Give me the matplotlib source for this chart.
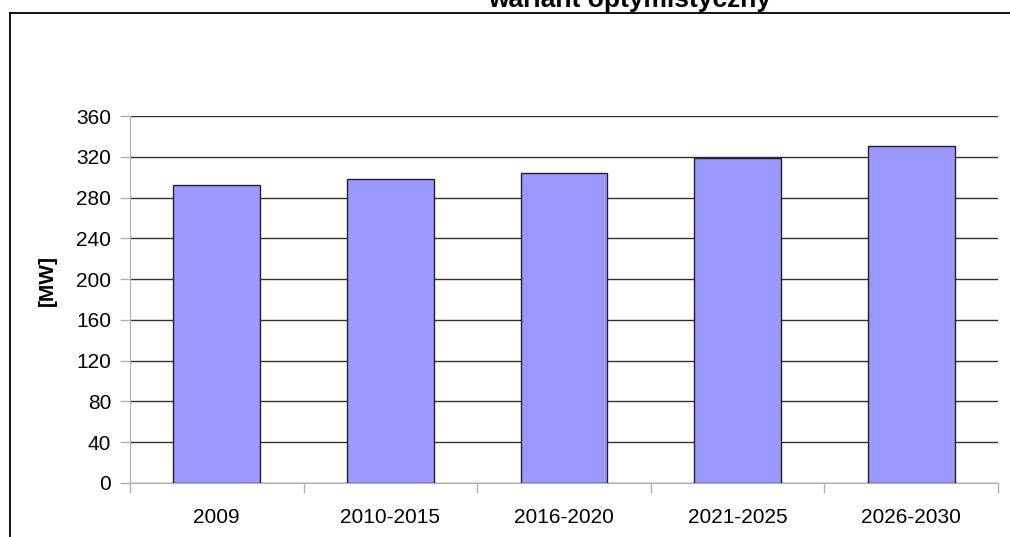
import matplotlib
matplotlib.use("Agg")
import matplotlib.pyplot as plt
from matplotlib.lines import Line2D
import numpy as np

categories = ["2009", "2010-2015", "2016-2020", "2021-2025", "2026-2030"]
values = [292, 298, 304, 318.5, 331]
yticks = [0, 40, 80, 120, 160, 200, 240, 280, 320, 360]
title = "wariant optymistyczny"
ylabel = "[MW]"

plt.rcParams['font.family'] = ['Liberation Sans', 'DejaVu Sans']

W, H = 1010, 537
fig = plt.figure(figsize=(W / 100, H / 100), dpi=100)
fig.patch.set_facecolor('white')

left, right, top, bottom = 130, 998, 116, 483
ax = fig.add_axes([left / W, 1 - bottom / H, (right - left) / W, (bottom - top) / H])

x = np.arange(len(categories))
ax.bar(x, values, width=0.5, color='#9999FF', edgecolor='#222222', linewidth=1.0, zorder=3)

ax.set_xlim(-0.5, len(categories) - 0.5)
ax.set_ylim(0, 360)
ax.set_yticks(yticks)
ax.set_yticklabels([str(v) for v in yticks], fontsize=15)
ax.yaxis.grid(True, color='#333333', linewidth=1.0, zorder=0)
ax.set_axisbelow(True)

ax.set_xticks(x)
ax.set_xticklabels(categories, fontsize=15)
ax.set_xticks(np.arange(-0.5, len(categories)), minor=True)
ax.tick_params(axis='x', which='major', length=0, pad=18)
ax.tick_params(axis='x', which='minor', length=7.5, color='#b0b0b0', width=1)
ax.tick_params(axis='y', which='major', length=7.5, color='#b0b0b0', width=1, pad=6)

for s in ['top', 'right']:
    ax.spines[s].set_visible(False)
ax.spines['left'].set_color('#b0b0b0')
ax.spines['bottom'].set_color('#b0b0b0')

fig.text(47 / W, 1 - 280 / H, ylabel, rotation=90, fontsize=15, fontweight='bold',
         ha='center', va='center')
fig.text(630 / W, 1 - 7.5 / H, title, fontsize=19, fontweight='bold',
         ha='center', va='baseline')

# outer border (partially visible)
fig.add_artist(Line2D([10 / W, 10 / W], [0, 1 - 13 / H], transform=fig.transFigure,
                      color='black', linewidth=1.3))
fig.add_artist(Line2D([10 / W, 1], [1 - 13 / H, 1 - 13 / H], transform=fig.transFigure,
                      color='black', linewidth=1.3))

fig.savefig("out.png", dpi=100)
